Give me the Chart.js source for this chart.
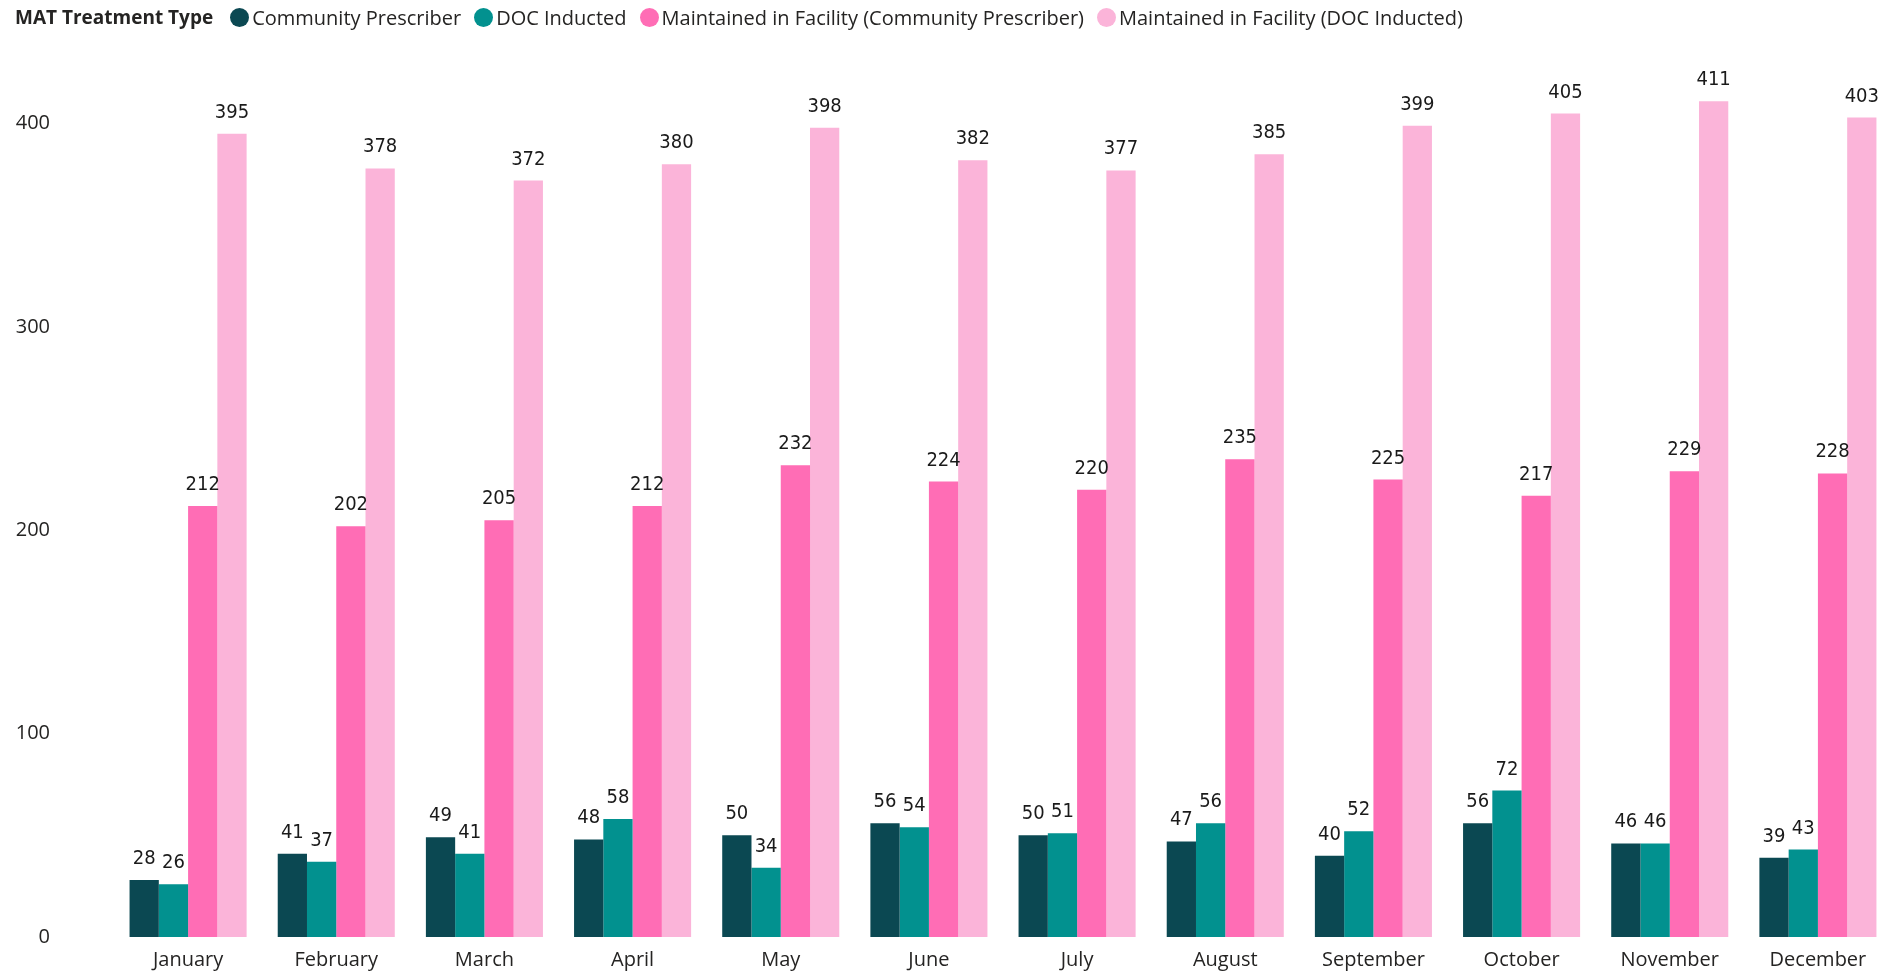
<!DOCTYPE html>
<html>
<head>
<meta charset="utf-8">
<script src="https://cdn.jsdelivr.net/npm/chart.js@4"></script>
<style>
  html, body { margin: 0; padding: 0; background: #fff; overflow: hidden; }
  #wrap { position: absolute; left: 0; top: 0; width: 1892px; height: 971px; }
  #chart { display: block; width: 1892px; height: 971px; }
  #legend {
    position: absolute; left: 15px; top: 3px; height: 28px;
    display: flex; align-items: center;
    font-family: "Open Sans", "Noto Sans", sans-serif; font-size: 20px; color: #252423;
    white-space: nowrap;
  }
  #legend .title { font-weight: 700; font-size: 19px; margin-right: 17px; }
  #legend .item { display: flex; align-items: center; margin-right: 13px; }
  #legend .dot { width: 19px; height: 19px; border-radius: 50%; margin-right: 3px; }
</style>
</head>
<body>
<div id="wrap">
  <canvas id="chart" width="1892" height="971"></canvas>
  <div id="legend"></div>
</div>
<script>
const months = ["January", "February", "March", "April", "May", "June", "July", "August", "September", "October", "November", "December"];
const communityPrescriber = [28, 41, 49, 48, 50, 56, 50, 47, 40, 56, 46, 39];
const docInducted = [26, 37, 41, 58, 34, 54, 51, 56, 52, 72, 46, 43];
const maintainedCommunity = [212, 202, 205, 212, 232, 224, 220, 235, 225, 217, 229, 228];
const maintainedDoc = [395, 378, 372, 380, 398, 382, 377, 385, 399, 405, 411, 403];
const yTicks = [0, 100, 200, 300, 400];

const seriesNames = ["Community Prescriber", "DOC Inducted", "Maintained in Facility (Community Prescriber)", "Maintained in Facility (DOC Inducted)"];
const seriesColors = ["#0b4852", "#02918f", "#ff6db5", "#fbb4d9"];
const seriesData = [communityPrescriber, docInducted, maintainedCommunity, maintainedDoc];

// legend as html, built from the names
let legend = document.getElementById("legend");
legend.innerHTML = '<span class="title">MAT Treatment Type</span>' +
  seriesNames.map((n, i) =>
    `<span class="item"><span class="dot" style="background:${seriesColors[i]}"></span>${n}</span>`
  ).join("");

const valueLabels = {
  id: "valueLabels",
  afterDatasetsDraw(chart) {
    let ctx = chart.ctx;
    ctx.save();
    ctx.font = '20px "DejaVu Sans Condensed", "DejaVu Sans", sans-serif';
    ctx.fillStyle = "#1a1a1a";
    ctx.textAlign = "center";
    ctx.textBaseline = "alphabetic";
    chart.data.datasets.forEach((ds, i) => {
      let meta = chart.getDatasetMeta(i);
      meta.data.forEach((bar, j) => {
        ctx.fillText(String(ds.data[j]), bar.x, bar.y - 16);
      });
    });
    ctx.restore();
  },
};

let canvas = document.getElementById("chart");

new Chart(canvas, {
  type: "bar",
  data: {
    labels: months,
    datasets: seriesNames.map((n, i) => ({
      label: n,
      data: seriesData[i],
      backgroundColor: seriesColors[i],
      barPercentage: 1.0,
      categoryPercentage: 0.79,
    })),
  },
  options: {
    responsive: false,
    maintainAspectRatio: false,
    animation: false,
    devicePixelRatio: 1,
    layout: { padding: { top: 83, left: 0, right: 0, bottom: 0 } },
    plugins: { legend: { display: false }, tooltip: { enabled: false } },
    scales: {
      x: {
        grid: { display: false, drawTicks: false },
        border: { display: false },
        ticks: {
          color: "#252423",
          padding: 11,
          font: { family: '"Open Sans", "Noto Sans", sans-serif', size: 20 },
        },
        afterFit(scale) { scale.height = 34; },
      },
      y: {
        min: 0,
        max: 420,
        grid: { display: false, drawTicks: false },
        border: { display: false },
        afterBuildTicks(scale) { scale.ticks = yTicks.map((v) => ({ value: v })); },
        ticks: {
          color: "#252423",
          padding: 64,
          font: { family: '"Open Sans", "Noto Sans", sans-serif', size: 20 },
        },
        afterFit(scale) {
          scale.width = 114;
          // big tick padding should not eat the plot height
          scale.paddingTop = 0;
          scale.paddingBottom = 0;
        },
      },
    },
  },
  plugins: [valueLabels],
});
</script>
</body>
</html>
